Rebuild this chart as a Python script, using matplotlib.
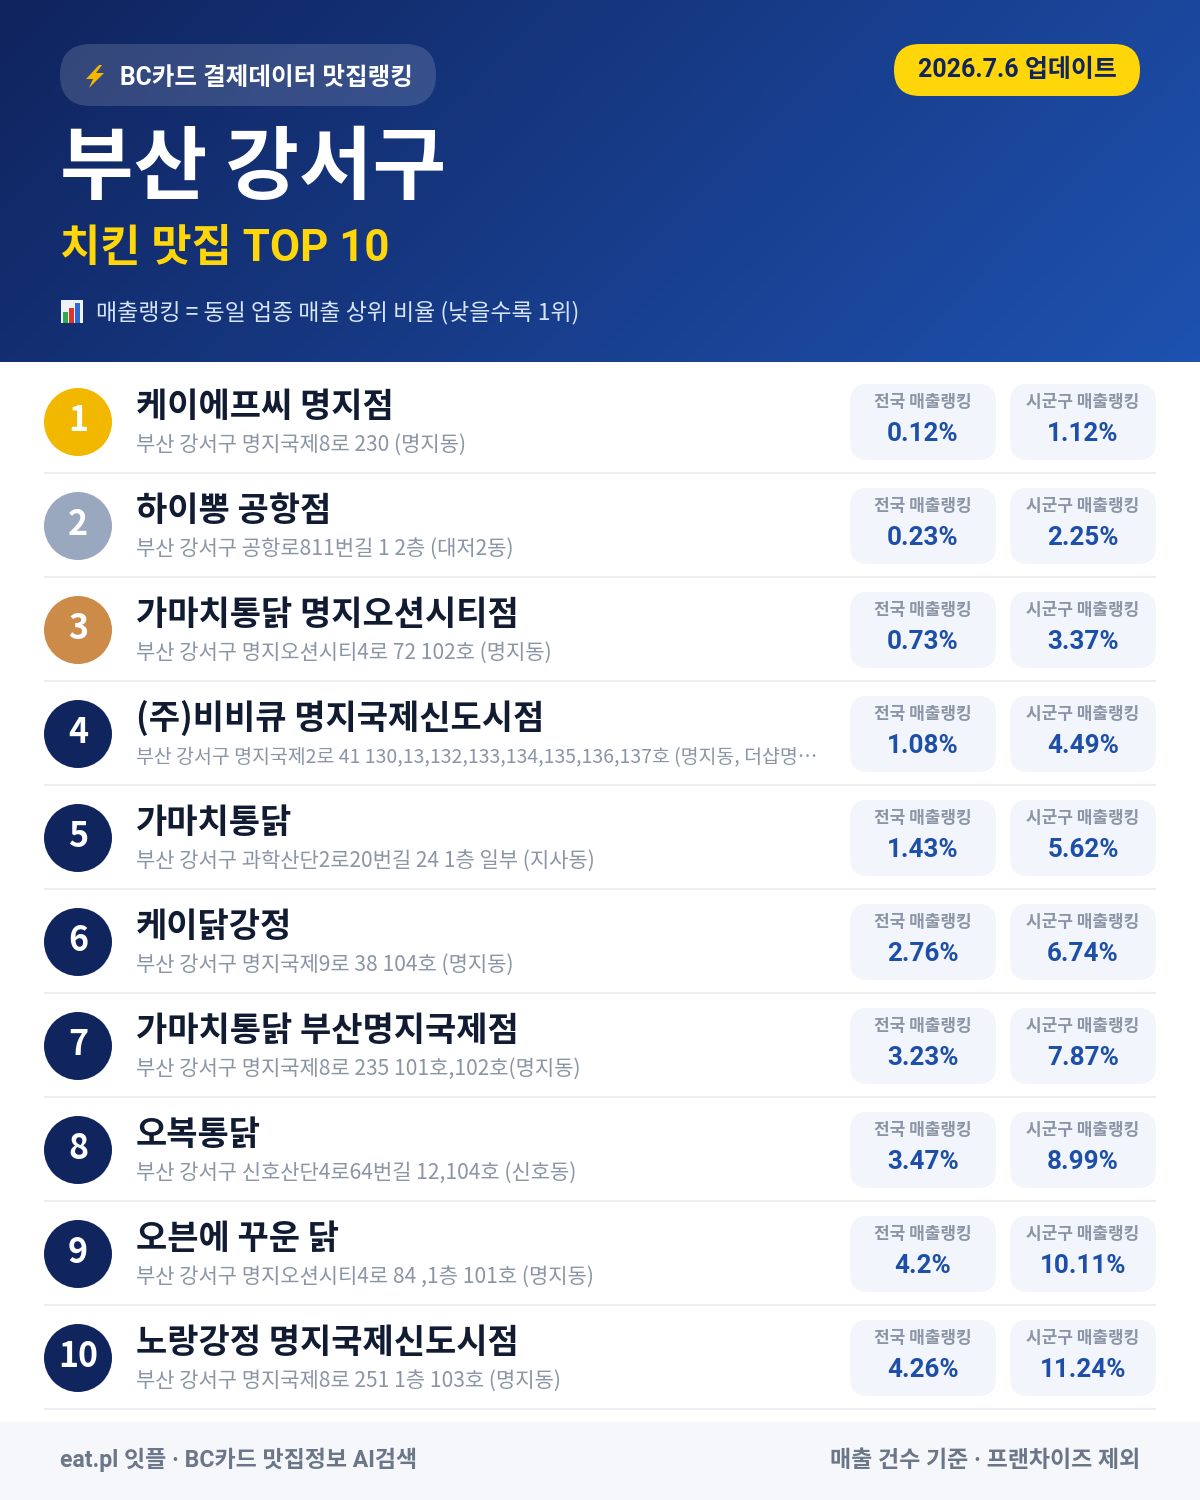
import numpy as np
import matplotlib
matplotlib.use("Agg")
import matplotlib.pyplot as plt
from matplotlib.patches import FancyBboxPatch, Circle, Rectangle, Polygon
from matplotlib.colors import LinearSegmentedColormap

names = ["케이에프씨 명지점", "하이뽕 공항점", "가마치통닭 명지오션시티점", "(주)비비큐 명지국제신도시점", "가마치통닭",
         "케이닭강정", "가마치통닭 부산명지국제점", "오복통닭", "오븐에 꾸운 닭", "노랑강정 명지국제신도시점"]
addresses = ["부산 강서구 명지국제8로 230 (명지동)",
             "부산 강서구 공항로811번길 1 2층 (대저2동)",
             "부산 강서구 명지오션시티4로 72 102호 (명지동)",
             "부산 강서구 명지국제2로 41 130,13,132,133,134,135,136,137호 (명지동, 더샵명…",
             "부산 강서구 과학산단2로20번길 24 1층 일부 (지사동)",
             "부산 강서구 명지국제9로 38 104호 (명지동)",
             "부산 강서구 명지국제8로 235 101호,102호(명지동)",
             "부산 강서구 신호산단4로64번길 12,104호 (신호동)",
             "부산 강서구 명지오션시티4로 84 ,1층 101호 (명지동)",
             "부산 강서구 명지국제8로 251 1층 103호 (명지동)"]
national = [0.12, 0.23, 0.73, 1.08, 1.43, 2.76, 3.23, 3.47, 4.2, 4.26]
district = [1.12, 2.25, 3.37, 4.49, 5.62, 6.74, 7.87, 8.99, 10.11, 11.24]
label_nat = "전국 매출랭킹"
label_dist = "시군구 매출랭킹"

KR = ["Noto Sans CJK KR", "DejaVu Sans"]
RB = ["Roboto", "Noto Sans CJK KR", "DejaVu Sans"]
NAVY = "#10245E"; BLUE = "#1E4FA8"; YEL = "#FFD60A"
PX = 0.72

fig = plt.figure(figsize=(12, 15), dpi=100, facecolor="white")
ax = fig.add_axes([0, 0, 1, 1])

def T(x, y, s, px, color, weight="bold", ha="left", fam=KR):
    return ax.text(x, y, s, fontsize=px * PX, color=color, fontweight=weight, ha=ha, va="baseline", family=fam)

# header gradient
W, H = 1200, 362
xx, yy = np.meshgrid(np.linspace(0, 1, 300), np.linspace(0, 1, 90))
t = (xx * W + yy * H) / (W + H)
cm = LinearSegmentedColormap.from_list("h", [NAVY, "#1E52B0"])
ax.imshow(t, cmap=cm, extent=(0, W, H, 0), aspect="auto", zorder=0)
ax.set_xlim(0, 1200); ax.set_ylim(1500, 0); ax.axis("off")

def rbox(x0, y0, x1, y1, r, fc, alpha=None):
    ax.add_patch(FancyBboxPatch((x0, y0), x1 - x0, y1 - y0, boxstyle=f"round,pad=0,rounding_size={r}",
                                fc=fc, ec="none", alpha=alpha, zorder=1))

rbox(60, 44, 436, 106, 31, "white", 0.15)
ax.add_patch(Polygon([(99, 65), (86, 79), (93, 79), (89, 88), (104, 73), (96, 73), (102, 65)], fc="#F5B800", ec="none", zorder=2))
T(120, 85, "BC카드 결제데이터 맛집랭킹", 24.6, "white", fam=RB)
rbox(894, 44, 1140, 96, 26, YEL)
T(1017, 77, "2026.7.6 업데이트", 25, NAVY, ha="center", fam=RB)
T(60, 193, "부산 강서구", 80, "white")
T(60, 261, "치킨 맛집 TOP 10", 43.8, YEL, fam=RB)
ax.add_patch(Rectangle((61, 300), 22, 23, fc="#EEF2F7", ec="none", zorder=2))
for bx, by, bc in [(63, 312, "#2FA84F"), (69, 308, "#E0352B"), (75, 303, "#2C6BD6")]:
    ax.add_patch(Rectangle((bx, by), 5, 323 - by, fc=bc, ec="none", zorder=3))
T(96, 319, "매출랭킹 = 동일 업종 매출 상위 비율 (낮을수록 1위)", 23, "#D6E4FA", "regular")

ADDR_MAX_W = 681  # address column ends before the stat pills
renderer = fig.canvas.get_renderer()
rank_colors = ["#F2B800", "#9AA8BF", "#CD8B4A"] + [NAVY] * 7
for i, (nm, ad, a, b) in enumerate(zip(names, addresses, national, district)):
    dy = 104 * i
    ax.add_patch(Circle((78, 422 + dy), 34, fc=rank_colors[i], ec="none", zorder=2))
    T(78, 431 + dy, str(i + 1), 34, "white", ha="center")
    T(136, 417 + dy, nm, 34, "#111C33")
    tx = T(136, 451 + dy, ad, 21, "#8B95A5", "regular")
    w = tx.get_window_extent(renderer).width
    if w > ADDR_MAX_W:
        tx.set_fontsize(tx.get_fontsize() * ADDR_MAX_W / w)
    for x0, lab, v in [(850, label_nat, a), (1010, label_dist, b)]:
        rbox(x0, 384 + dy, x0 + 146, 460 + dy, 18, "#F2F5FC")
        T(x0 + 73, 407 + dy, lab, 17, "#8B95A5", ha="center")
        T(x0 + 73, 441 + dy, f"{v:g}%", 26, BLUE, ha="center", fam=RB)
    ax.add_patch(Rectangle((44, 472 + dy), 1112, 2, fc="#EEEFF2", ec="none", zorder=1))

ax.add_patch(Rectangle((0, 1422), 1200, 78, fc="#F5F7FB", ec="none", zorder=1))
T(60, 1467, "eat.pl 잇플 · BC카드 맛집정보 AI검색", 23, "#6B7688", fam=RB)
T(1140, 1467, "매출 건수 기준 · 프랜차이즈 제외", 23, "#6B7688", ha="right", fam=RB)

fig.savefig("out.png", dpi=100)
